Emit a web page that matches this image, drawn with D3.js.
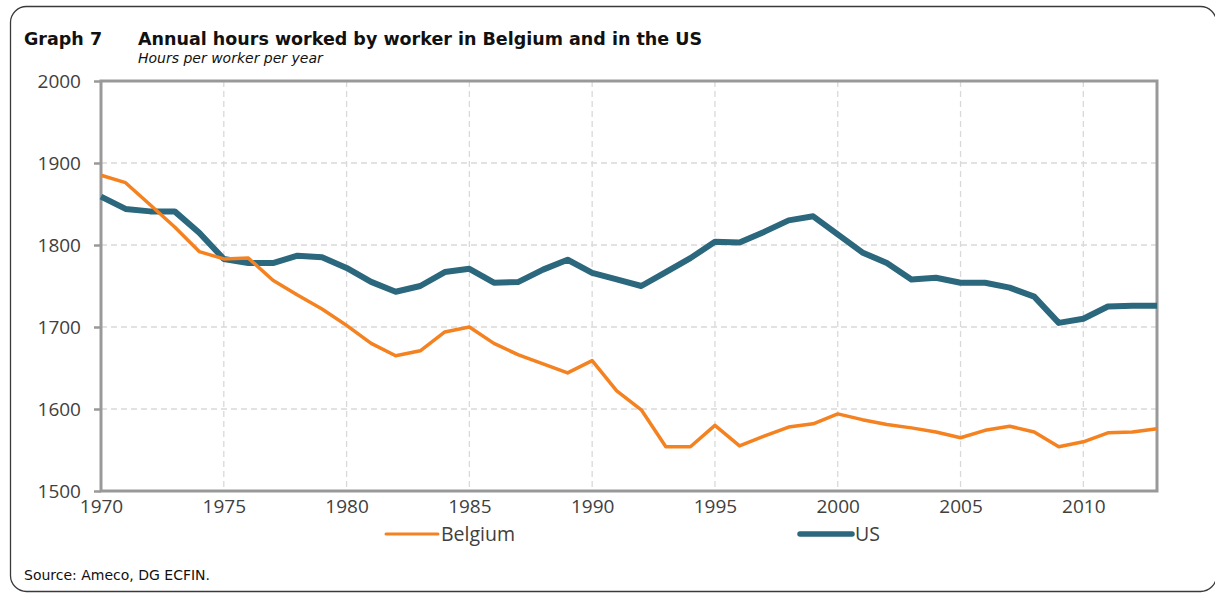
<!DOCTYPE html>
<html>
<head>
<meta charset="utf-8">
<script src="https://cdn.jsdelivr.net/npm/d3@7"></script>
<style>
	body { margin: 0; background: #fff; }
	svg { display: block; }
</style>
</head>
<body>
<div id="chart"></div>
<script>
const years = d3.range(1970, 2014);
const belgium = [1885, 1876, 1849, 1822, 1792, 1783, 1784, 1757, 1739, 1722,
	1702, 1680, 1665, 1671, 1694, 1700, 1680, 1666, 1655, 1644,
	1659, 1622, 1599, 1554, 1554, 1580, 1555, 1567, 1578, 1582,
	1594, 1587, 1581, 1577, 1572, 1565, 1574, 1579, 1572, 1554,
	1560, 1571, 1572, 1576];
const us = [1859, 1844, 1841, 1841, 1815, 1783, 1778, 1778, 1787, 1785,
	1772, 1755, 1743, 1750, 1767, 1771, 1754, 1755, 1770, 1782,
	1766, 1758, 1750, 1767, 1784, 1804, 1803, 1816, 1830, 1835,
	1813, 1791, 1778, 1758, 1760, 1754, 1754, 1748, 1737, 1705,
	1710, 1725, 1726, 1726];
const yTicks = [1500, 1600, 1700, 1800, 1900, 2000];
const xTicks = [1970, 1975, 1980, 1985, 1990, 1995, 2000, 2005, 2010];
const seriesNames = ['Belgium', 'US'];

const width = 1215;
const height = 595;
const margin = { top: 81, right: 58, bottom: 104, left: 101 };
const innerWidth = width - margin.left - margin.right;
const innerHeight = height - margin.top - margin.bottom;

const colors = { Belgium: '#f58220', US: '#2b677d' };
const strokes = { Belgium: 3.5, US: 6 };
const tickFont = '"Open Sans", "Noto Sans", sans-serif';
const headFont = '"DejaVu Sans", Verdana, sans-serif';

const xScale = d3.scaleLinear().domain([1970, 2013]).range([0, innerWidth]);
const yScale = d3.scaleLinear().domain([1500, 2000]).range([innerHeight, 0]);

const svg = d3.select('#chart').append('svg')
		.attr('width', width)
		.attr('height', height);

// outer frame, right side just past the edge
svg.append('rect')
		.attr('x', 10.5)
		.attr('y', 6.5)
		.attr('width', 1206)
		.attr('height', 585)
		.attr('rx', 16)
		.attr('fill', 'none')
		.attr('stroke', '#3a3a3a')
		.attr('stroke-width', 1.3);

const head = svg.append('g')
		.attr('font-family', headFont)
		.attr('fill', '#111');

head.append('text')
		.attr('x', 24)
		.attr('y', 45)
		.attr('font-weight', 'bold')
		.attr('font-size', 17.5)
		.text('Graph 7');

head.append('text')
		.attr('x', 138)
		.attr('y', 45)
		.attr('font-weight', 'bold')
		.attr('font-size', 17.5)
		.text('Annual hours worked by worker in Belgium and in the US');

head.append('text')
		.attr('x', 138)
		.attr('y', 63)
		.attr('font-style', 'italic')
		.attr('font-size', 14)
		.text('Hours per worker per year');

head.append('text')
		.attr('x', 24)
		.attr('y', 580)
		.attr('font-size', 14)
		.text('Source: Ameco, DG ECFIN.');

const g = svg.append('g')
		.attr('transform', `translate(${margin.left}, ${margin.top})`);

// gridlines
g.append('g')
		.selectAll('line')
		.data(yTicks.filter((d) => d > 1500 && d < 2000))
		.enter().append('line')
		.attr('x1', 0)
		.attr('x2', innerWidth)
		.attr('y1', (d) => yScale(d))
		.attr('y2', (d) => yScale(d))
		.attr('stroke', '#d9d9d9')
		.attr('stroke-width', 1.3)
		.attr('stroke-dasharray', '6,4');

g.append('g')
		.selectAll('line')
		.data(xTicks.filter((d) => d > 1970))
		.enter().append('line')
		.attr('x1', (d) => xScale(d))
		.attr('x2', (d) => xScale(d))
		.attr('y1', 0)
		.attr('y2', innerHeight)
		.attr('stroke', '#d9d9d9')
		.attr('stroke-width', 1.3)
		.attr('stroke-dasharray', '6,4');

// axes
const yAxis = d3.axisLeft(yScale)
		.tickValues(yTicks)
		.tickSize(7)
		.tickPadding(13)
		.tickFormat(d3.format('d'));
const xAxis = d3.axisBottom(xScale)
		.tickValues(xTicks)
		.tickSize(0)
		.tickPadding(9)
		.tickFormat(d3.format('d'));

const yG = g.append('g').call(yAxis);
const xG = g.append('g')
		.attr('transform', `translate(0, ${innerHeight})`)
		.call(xAxis);

[yG, xG].forEach((ax) => {
	ax.attr('font-family', tickFont).attr('font-size', 19);
	ax.select('.domain').remove();
	ax.selectAll('line').attr('stroke', '#999').attr('stroke-width', 2.5);
	ax.selectAll('text').attr('fill', '#404040');
});

// plot box
g.append('rect')
		.attr('x', 0)
		.attr('y', 0)
		.attr('width', innerWidth)
		.attr('height', innerHeight)
		.attr('fill', 'none')
		.attr('stroke', '#999')
		.attr('stroke-width', 3);

// lines
const line = d3.line()
		.x((d, i) => xScale(years[i]))
		.y((d) => yScale(d));

const series = [
	{ name: 'Belgium', values: belgium },
	{ name: 'US', values: us },
];

g.selectAll('.series')
		.data(series.slice().reverse())
		.enter().append('path')
		.attr('class', 'series')
		.attr('d', (d) => line(d.values))
		.attr('fill', 'none')
		.attr('stroke', (d) => colors[d.name])
		.attr('stroke-width', (d) => strokes[d.name])
		.attr('stroke-linejoin', 'round');

// legend
const legendX = { Belgium: 386, US: 800 };
const legend = svg.append('g')
		.attr('font-family', tickFont)
		.attr('font-size', 19.5)
		.selectAll('g')
		.data(seriesNames)
		.enter().append('g')
		.attr('transform', (d) => `translate(${legendX[d]}, 534)`);

legend.append('line')
		.attr('x1', 0)
		.attr('x2', 52)
		.attr('stroke', (d) => colors[d])
		.attr('stroke-width', (d) => strokes[d] - 0.5)
		.attr('stroke-linecap', 'round');

legend.append('text')
		.attr('x', 55)
		.attr('dy', '0.36em')
		.attr('fill', '#404040')
		.text((d) => d);
</script>
</body>
</html>
